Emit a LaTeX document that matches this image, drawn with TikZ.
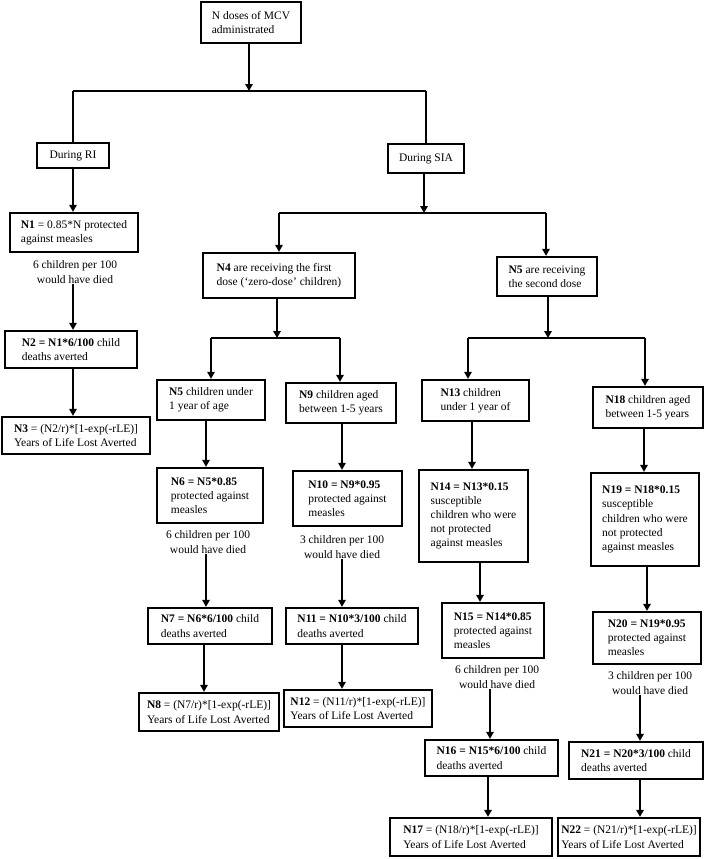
\documentclass[tikz,border=0pt]{standalone}
\usepackage{fontspec}
\setmainfont{Liberation Serif}
\usetikzlibrary{arrows.meta}
\tikzset{
  box/.style={draw, line width=2.3pt, inner sep=2pt, align=left, font=\fontsize{11.5}{14.2}\selectfont},
  note/.style={align=center, inner sep=1pt, font=\fontsize{11.5}{14.2}\selectfont},
  link/.style={line width=1.5pt},
  arr/.style={line width=1.5pt, -{Triangle[length=7pt,width=7.5pt]}},
}
\newcommand\mybox[6]{\node[box,minimum width={#4pt-#2pt},minimum height={#5pt-#3pt}] (#1) at ({(#2+#4)/2},{(#3+#5)/2}) {#6};}
\begin{document}
\begin{tikzpicture}[x=1pt,y=-1pt]
\useasboundingbox (0,0) rectangle (709,859);
% boxes
\mybox{top}{201}{2}{301}{43}{N doses of MCV\\administrated}
\mybox{ri}{37}{143}{109}{168}{During RI}
\mybox{sia}{388}{144}{464}{173}{During SIA}
\mybox{n1}{10}{213}{138}{252}{\textbf{N1} = 0.85*N protected\\against measles}
\mybox{n2}{5}{331}{137}{368}{\textbf{N2 = N1*6/100} child\\deaths averted}
\mybox{n3}{2}{417}{150}{454}{\textbf{N3} = (N2/r)*[1-exp(-rLE)]\\Years of Life Lost Averted}
\mybox{n4}{203}{253}{355}{298}{\textbf{N4} are receiving the first\\dose (‘zero-dose’ children)}
\mybox{n5}{497}{257}{597}{296}{\textbf{N5} are receiving\\the second dose}
\mybox{n5c}{157}{380}{265}{420}{\textbf{N5} children under\\1 year of age}
\mybox{n9}{286}{383}{396}{423}{\textbf{N9} children aged\\between 1-5 years}
\mybox{n13}{422}{380}{529}{421}{\textbf{N13} children\\under 1 year of}
\mybox{n18}{593}{387}{703}{428}{\textbf{N18} children aged\\between 1-5 years}
\mybox{n6}{157}{468}{263}{523}{\textbf{N6 = N5*0.85}\\protected against\\measles}
\mybox{n10}{293}{471}{402}{526}{\textbf{N10 = N9*0.95}\\protected against\\measles}
\mybox{n14}{419}{470}{528}{562}{\textbf{N14 = N13*0.15}\\susceptible\\children who were\\not protected\\against measles}
\mybox{n19}{591}{473}{699}{566}{\textbf{N19 = N18*0.15}\\susceptible\\children who were\\not protected\\against measles}
\mybox{n7}{148}{608}{272}{644}{\textbf{N7 = N6*6/100} child\\deaths averted}
\mybox{n11}{286}{608}{418}{644}{\textbf{N11 = N10*3/100} child\\deaths averted}
\mybox{n15}{442}{603}{544}{658}{\textbf{N15 = N14*0.85}\\protected against\\measles}
\mybox{n20}{593}{612}{701}{664}{\textbf{N20 = N19*0.95}\\protected against\\measles}
\mybox{n8}{139}{693}{279}{731}{\textbf{N8} = (N7/r)*[1-exp(-rLE)]\\Years of Life Lost Averted}
\mybox{n12}{284}{690}{432}{727}{\textbf{N12} = (N11/r)*[1-exp(-rLE)]\\Years of Life Lost Averted}
\mybox{n16}{425}{740}{558}{776}{\textbf{N16 = N15*6/100} child\\deaths averted}
\mybox{n21}{569}{742}{703}{779}{\textbf{N21 = N20*3/100} child\\deaths averted}
\mybox{n17}{390}{818}{552}{856}{\textbf{N17} = (N18/r)*[1-exp(-rLE)]\\Years of Life Lost Averted}
\mybox{n22}{558}{818}{700}{856}{\textbf{N22} = (N21/r)*[1-exp(-rLE)]\\Years of Life Lost Averted}
% notes
\node[note] (t1) at (75,272) {6 children per 100\\would have died};
\node[note] (t6) at (208,542) {6 children per 100\\would have died};
\node[note] (t10) at (342,547) {3 children per 100\\would have died};
\node[note] (t15) at (497,677) {6 children per 100\\would have died};
\node[note] (t20) at (650,683) {3 children per 100\\would have died};
% columns
\coordinate (c0) at (249,0);
\coordinate (c1) at (73,0);
\coordinate (c2) at (424,0);
\coordinate (c5) at (277,0);
\coordinate (c8) at (548,0);
\coordinate (c11) at (206,0);
\coordinate (c12) at (204,0);
\coordinate (c13) at (342,0);
\coordinate (c14) at (472,0);
\coordinate (c15) at (480,0);
\coordinate (c16) at (490,0);
\coordinate (c17) at (488,0);
\coordinate (c18) at (644,0);
\coordinate (c19) at (647,0);
\coordinate (c20) at (640,0);
% junctions
\coordinate (ja) at (73,91);
\coordinate (jb) at (426,91);
\coordinate (jc) at (279,213);
\coordinate (jd) at (546,213);
\coordinate (je) at (211,338);
\coordinate (jf) at (340,338);
\coordinate (jg) at (468,338);
\coordinate (jh) at (645,338);
% connectors
\draw[arr] (top.south -| c0) -- (c0 |- ja);
\draw[link] (ja) -- (jb);
\draw[link] (ja) -- (ri.north);
\draw[link] (jb) -- (sia.north);
\draw[arr] (ri.south -| c1) -- (n1.north -| c1);
\draw[arr] (t1.south -| c1) -- (n2.north -| c1);
\draw[arr] (n2.south -| c1) -- (n3.north -| c1);
\draw[arr] (sia.south -| c2) -- (c2 |- jc);
\draw[link] (jc) -- (jd);
\draw[arr] (jc) -- (n4.north -| jc);
\draw[arr] (jd) -- (n5.north -| jd);
\draw[arr] (n4.south -| c5) -- (c5 |- je);
\draw[link] (je) -- (jf);
\draw[arr] (je) -- (n5c.north -| je);
\draw[arr] (jf) -- (n9.north -| jf);
\draw[arr] (n5.south -| c8) -- (c8 |- jg);
\draw[link] (jg) -- (jh);
\draw[arr] (jg) -- (n13.north -| jg);
\draw[arr] (jh) -- (n18.north -| jh);
\draw[arr] (n5c.south -| c11) -- (n6.north -| c11);
\draw[arr] (t6.south -| c11) -- (n7.north -| c11);
\draw[arr] (n7.south -| c12) -- (n8.north -| c12);
\draw[arr] (n9.south -| c13) -- (n10.north -| c13);
\draw[arr] (t10.south -| c13) -- (n11.north -| c13);
\draw[arr] (n11.south -| c13) -- (n12.north -| c13);
\draw[arr] (n13.south -| c14) -- (n14.north -| c14);
\draw[arr] (n14.south -| c15) -- (n15.north -| c15);
\draw[arr] (t15.south -| c16) -- (n16.north -| c16);
\draw[arr] (n16.south -| c17) -- (n17.north -| c17);
\draw[arr] (n18.south -| c18) -- (n19.north -| c18);
\draw[arr] (n19.south -| c19) -- (n20.north -| c19);
\draw[arr] (t20.south -| c20) -- (n21.north -| c20);
\draw[arr] (n21.south -| c20) -- (n22.north -| c20);
\end{tikzpicture}
\end{document}
